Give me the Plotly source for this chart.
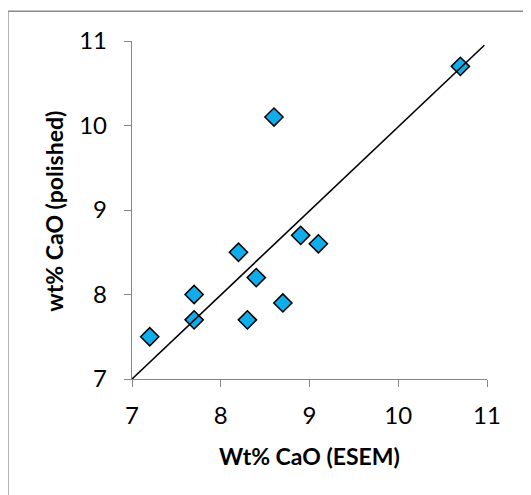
import plotly.graph_objects as go

esem = [7.2, 7.7, 7.7, 8.2, 8.4, 8.3, 8.6, 8.7, 8.9, 9.1, 10.7]
polished = [7.5, 8.0, 7.7, 8.5, 8.2, 7.7, 10.1, 7.9, 8.7, 8.6, 10.7]
line_x = [7.0, 10.97]
line_y = [7.0, 10.95]
tick_vals = [7, 8, 9, 10, 11]

OFF = 8  # default body margin of the html page
W, H = 531 - OFF, 495 - OFF
L, T = 132 - OFF, 40.7 - OFF
pw, ph = 354.7, 338.0
R, B = W - L - pw, H - T - ph

def px(x):
    return (x - OFF - L) / pw

def py(y):
    return (H - B - (y - OFF)) / ph

fig = go.Figure()
fig.add_trace(go.Scatter(
    x=esem, y=polished, mode="markers",
    marker=dict(symbol="diamond", size=14, color="#10ADEB",
                line=dict(color="black", width=1.5)),
    showlegend=False, cliponaxis=False))
fig.add_trace(go.Scatter(
    x=line_x, y=line_y, mode="lines",
    line=dict(color="black", width=1.6), showlegend=False, cliponaxis=False))

font = "Lato, Carlito, Calibri, sans-serif"
axis_common = dict(
    range=[7, 11], tickvals=tick_vals, showgrid=False, zeroline=False,
    showline=True, linecolor="#868686", linewidth=1.4,
    ticks="outside", ticklen=7, tickwidth=1.4, tickcolor="#868686",
    tickfont=dict(family=font, size=24, color="black"),
)
fig.update_layout(
    width=W, height=H,
    margin=dict(l=L, r=R, t=T, b=B, autoexpand=False),
    paper_bgcolor="white", plot_bgcolor="white",
    xaxis=dict(**axis_common, ticklabelstandoff=8,
               title=dict(text="Wt% CaO (ESEM)", standoff=20,
                          font=dict(family=font, size=23, color="black", weight=700))),
    yaxis=dict(**axis_common, ticklabelstandoff=12),
    annotations=[dict(text="wt% CaO (polished)", xref="paper", yref="paper",
                      x=px(54), y=py(210.5), textangle=-90, showarrow=False,
                      xanchor="center", yanchor="middle",
                      font=dict(family=font, size=23, color="black", weight=700))],
    shapes=[dict(type="rect", xref="paper", yref="paper",
                 x0=px(8), x1=px(560), y0=py(11), y1=py(540),
                 line=dict(color="#8a8a8a", width=1.5), layer="below")],
)
fig.write_html("out.html")
